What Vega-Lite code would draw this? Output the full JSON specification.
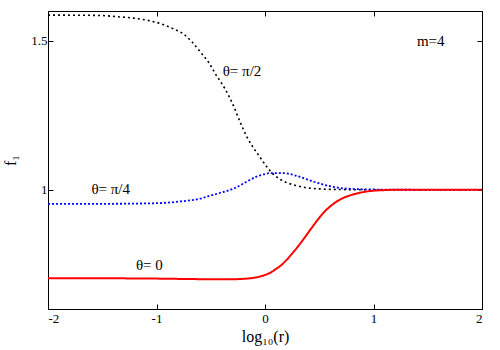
{
  "$schema": "https://vega.github.io/schema/vega-lite/v6.json",
  "width": 434,
  "height": 298,
  "autosize": "none",
  "padding": {"left": 48, "top": 11, "right": 18, "bottom": 41},
  "background": "white",
  "config": {
    "view": {"stroke": "black", "strokeWidth": 1},
    "font": "Liberation Serif",
    "axis": {
      "domainColor": "black",
      "tickColor": "black",
      "grid": false,
      "labelFont": "Liberation Serif",
      "titleFont": "Liberation Serif",
      "labelColor": "black",
      "titleColor": "black",
      "labelFontSize": 13,
      "titleFontSize": 16,
      "titleFontWeight": "normal",
      "tickSize": -5
    }
  },
  "datasets": {
    "curves": [
      {"s": "pi2", "x": -2.0, "y": 1.586},
      {"s": "pi2", "x": -1.83, "y": 1.586},
      {"s": "pi2", "x": -1.52, "y": 1.585},
      {"s": "pi2", "x": -1.37, "y": 1.581},
      {"s": "pi2", "x": -1.21, "y": 1.576},
      {"s": "pi2", "x": -1.06, "y": 1.567},
      {"s": "pi2", "x": -0.94, "y": 1.555},
      {"s": "pi2", "x": -0.85, "y": 1.541},
      {"s": "pi2", "x": -0.76, "y": 1.525},
      {"s": "pi2", "x": -0.67, "y": 1.495},
      {"s": "pi2", "x": -0.59, "y": 1.46},
      {"s": "pi2", "x": -0.52, "y": 1.428},
      {"s": "pi2", "x": -0.45, "y": 1.385},
      {"s": "pi2", "x": -0.37, "y": 1.34},
      {"s": "pi2", "x": -0.3, "y": 1.29},
      {"s": "pi2", "x": -0.23, "y": 1.228},
      {"s": "pi2", "x": -0.17, "y": 1.18},
      {"s": "pi2", "x": -0.12, "y": 1.148},
      {"s": "pi2", "x": -0.06, "y": 1.117},
      {"s": "pi2", "x": 0.0, "y": 1.085},
      {"s": "pi2", "x": 0.08, "y": 1.051},
      {"s": "pi2", "x": 0.17, "y": 1.029},
      {"s": "pi2", "x": 0.29, "y": 1.014},
      {"s": "pi2", "x": 0.38, "y": 1.007},
      {"s": "pi2", "x": 0.5, "y": 1.003},
      {"s": "pi2", "x": 0.69, "y": 1.001},
      {"s": "pi2", "x": 1.0, "y": 1.0},
      {"s": "pi2", "x": 1.5, "y": 1.0},
      {"s": "pi2", "x": 2.0, "y": 1.0},
      {"s": "pi4", "x": -2.0, "y": 0.953},
      {"s": "pi4", "x": -1.5, "y": 0.953},
      {"s": "pi4", "x": -1.0, "y": 0.955},
      {"s": "pi4", "x": -0.78, "y": 0.961},
      {"s": "pi4", "x": -0.6, "y": 0.97},
      {"s": "pi4", "x": -0.48, "y": 0.983},
      {"s": "pi4", "x": -0.38, "y": 0.993},
      {"s": "pi4", "x": -0.29, "y": 1.004},
      {"s": "pi4", "x": -0.17, "y": 1.027},
      {"s": "pi4", "x": -0.08, "y": 1.044},
      {"s": "pi4", "x": 0.0, "y": 1.053},
      {"s": "pi4", "x": 0.05, "y": 1.056},
      {"s": "pi4", "x": 0.17, "y": 1.056},
      {"s": "pi4", "x": 0.29, "y": 1.047},
      {"s": "pi4", "x": 0.45, "y": 1.027},
      {"s": "pi4", "x": 0.6, "y": 1.012},
      {"s": "pi4", "x": 0.75, "y": 1.004},
      {"s": "pi4", "x": 1.0, "y": 1.001},
      {"s": "pi4", "x": 1.5, "y": 1.0},
      {"s": "pi4", "x": 2.0, "y": 1.0},
      {"s": "zero", "x": -2.0, "y": 0.703},
      {"s": "zero", "x": -1.5, "y": 0.703},
      {"s": "zero", "x": -1.0, "y": 0.702},
      {"s": "zero", "x": -0.5, "y": 0.7},
      {"s": "zero", "x": -0.3, "y": 0.7},
      {"s": "zero", "x": -0.14, "y": 0.703},
      {"s": "zero", "x": -0.07, "y": 0.707},
      {"s": "zero", "x": 0.0, "y": 0.714},
      {"s": "zero", "x": 0.05, "y": 0.722},
      {"s": "zero", "x": 0.1, "y": 0.734},
      {"s": "zero", "x": 0.15, "y": 0.747},
      {"s": "zero", "x": 0.2, "y": 0.765},
      {"s": "zero", "x": 0.25, "y": 0.786},
      {"s": "zero", "x": 0.3, "y": 0.808},
      {"s": "zero", "x": 0.35, "y": 0.832},
      {"s": "zero", "x": 0.4, "y": 0.857},
      {"s": "zero", "x": 0.45, "y": 0.882},
      {"s": "zero", "x": 0.5, "y": 0.906},
      {"s": "zero", "x": 0.55, "y": 0.927},
      {"s": "zero", "x": 0.6, "y": 0.944},
      {"s": "zero", "x": 0.65, "y": 0.958},
      {"s": "zero", "x": 0.7, "y": 0.969},
      {"s": "zero", "x": 0.75, "y": 0.977},
      {"s": "zero", "x": 0.8, "y": 0.983},
      {"s": "zero", "x": 0.9, "y": 0.992},
      {"s": "zero", "x": 1.0, "y": 0.997},
      {"s": "zero", "x": 1.1, "y": 0.999},
      {"s": "zero", "x": 1.2, "y": 1.0},
      {"s": "zero", "x": 2.0, "y": 1.0}
    ],
    "labels": [
      {"x": -0.39, "y": 1.397, "t": "θ= π/2"},
      {"x": -1.6, "y": 1.002, "t": "θ= π/4"},
      {"x": -1.19, "y": 0.749, "t": "θ= 0"},
      {"x": 1.4, "y": 1.498, "t": "m=4"}
    ]
  },
  "layer": [
    {
      "data": {"name": "curves"},
      "mark": {"type": "line", "clip": true, "interpolate": "monotone"},
      "encoding": {
        "x": {
          "field": "x", "type": "quantitative",
          "scale": {"domain": [-2, 2], "nice": false, "zero": false},
          "axis": {"orient": "bottom", "values": [-2, -1, 0, 1, 2], "labelExpr": "'' + datum.value", "title": "log₁₀(r)", "labelPadding": 8, "titlePadding": 3}
        },
        "y": {
          "field": "y", "type": "quantitative",
          "scale": {"domain": [0.6, 1.6], "nice": false, "zero": false},
          "axis": {"orient": "left", "values": [1, 1.5], "labelExpr": "'' + datum.value", "title": "f₁", "labelPadding": 6, "titlePadding": 12}
        },
        "color": {"field": "s", "type": "nominal", "scale": {"domain": ["pi2", "pi4", "zero"], "range": ["#000000", "#0000ff", "#ff0000"]}, "legend": null},
        "strokeDash": {"field": "s", "type": "nominal", "scale": {"domain": ["pi2", "pi4", "zero"], "range": [[2, 3], [2, 2], [1, 0]]}, "legend": null},
        "strokeWidth": {"field": "s", "type": "nominal", "scale": {"domain": ["pi2", "pi4", "zero"], "range": [1.6, 2, 1.6]}, "legend": null}
      }
    },
    {
      "data": {"name": "labels"},
      "mark": {"type": "text", "align": "left", "baseline": "middle", "fontSize": 15, "font": "Liberation Serif", "color": "black"},
      "encoding": {
        "x": {"field": "x", "type": "quantitative", "axis": {"orient": "top", "values": [-1, 0, 1], "labels": false, "title": null}},
        "y": {"field": "y", "type": "quantitative", "axis": {"orient": "right", "values": [1, 1.5], "labels": false, "title": null}},
        "text": {"field": "t"}
      }
    }
  ],
  "resolve": {"axis": {"x": "independent", "y": "independent"}}
}
